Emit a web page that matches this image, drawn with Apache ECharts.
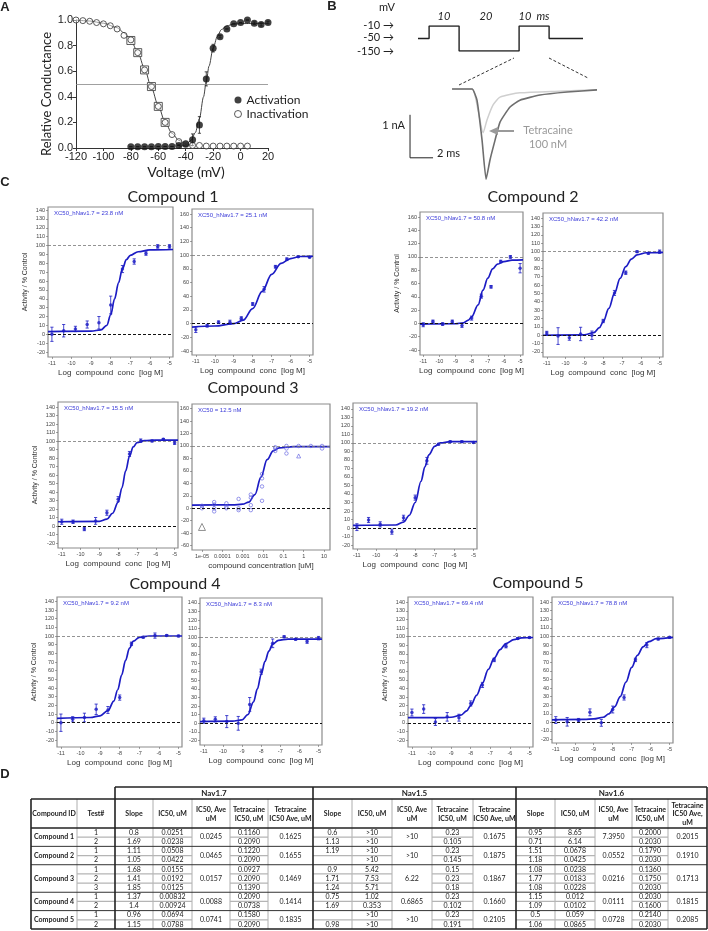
<!DOCTYPE html>
<html>
<head>
<meta charset="utf-8">
<script src="https://cdn.jsdelivr.net/npm/echarts@6/dist/echarts.min.js"></script>
<style>
html,body{margin:0;padding:0;background:#fff}
#main{width:708px;height:931px}
</style>
</head>
<body>
<div id="main"></div>
<script>
// ---------- panel A : activation / inactivation ----------
const inactV = [-120,-115,-110,-105,-100,-95,-90,-85,-80,-75,-70,-65,-60,-55,-50,-45,-40,-35,-30,-25,-20,-15,-10,-5,0,5];
const inactG = [1.0,0.995,0.99,0.98,0.97,0.955,0.93,0.88,0.845,0.745,0.61,0.48,0.325,0.2,0.105,0.05,0.035,0.02,0.02,0.015,0.015,0.015,0.015,0.015,0.015,0.015];
const sqV = [-80,-75,-70,-65,-60,-55];
const sqG = [0.84,0.745,0.61,0.48,0.325,0.2];
const actV = [-80,-75,-70,-65,-60,-55,-50,-45,-40,-35,-30,-25,-20,-15,-10,-5,0,5,10,15,20];
const actG = [0.01,0.01,0.01,0.01,0.012,0.012,0.012,0.02,0.03,0.065,0.18,0.54,0.78,0.87,0.93,0.97,0.98,1.0,0.975,0.965,0.98];
const actErr = [0,0,0,0,0,0,0,0,0.01,0.045,0.065,0.055,0.03,0.01,0,0,0,0,0.01,0.012,0.01];
const inactFit = [[-120,1.0],[-110,0.992],[-100,0.975],[-90,0.94],[-85,0.9],[-80,0.84],[-75,0.75],[-70,0.62],[-65,0.47],[-60,0.33],[-55,0.2],[-50,0.115],[-45,0.06],[-40,0.03],[-35,0.015]];
const actFit = [[-45,0.005],[-40,0.025],[-36,0.06],[-33,0.12],[-30,0.23],[-27,0.4],[-25,0.52],[-23,0.64],[-20,0.78],[-17,0.87],[-14,0.925],[-10,0.955],[-5,0.968],[0,0.972],[20,0.975]];

// ---------- panel B : protocol and current traces ----------
const protoT = [-3.7,0,0,10,10,30,30,40,40,51.3];
const protoV = ['-50','-50','-10','-10','-150','-150','-10','-10','-50','-50'];
const protoLevels = ['-150','-50','-10'];
const ctrlT = [0,1.74,2.17,2.61,2.96,3.3,3.74,4.17,5.04,5.9,7.65,10,12.6];
const ctrlI = [0,0,-0.26,-1.19,-2.1,-1.65,-1.19,-0.77,-0.42,-0.26,-0.14,-0.07,-0.02];
const tetT = [0,1.74,2.26,2.7,3.04,3.57,4.17,5.9,9.3,12.6];
const tetI = [0,0,-0.49,-1.02,-0.72,-0.37,-0.19,-0.09,-0.05,-0.02];
const scaleT = [-3.65,-3.65,-1.65];
const scaleI = [-0.6,-1.6,-1.6];

// ---------- panel C : dose response ----------
const logConc = [-11,-10.4,-9.8,-9.2,-8.6,-8,-7.4,-6.8,-6.2,-5.6,-5];
const logTicks = [-11,-10,-9,-8,-7,-6,-5];
const ticks10 = [-20,-10,0,10,20,30,40,50,60,70,80,90,100,110,120,130,140];
const ticks20 = [-40,-20,0,20,40,60,80,100,120,140,160];
const ticks20b = [-60,-40,-20,0,20,40,60,80,100,120,140,160];

const c1aAct = [0,4,6,11,13,33,73.5,82,91,99,99];
const c1aErr = [8,7,3,4,7,10,4,3,2,2,2];
const c1aFit = [[-11.2,3],[-9,3.5],[-8.5,5],[-8.2,10],[-8,22],[-7.8,40],[-7.6,58],[-7.4,74],[-7.2,84],[-7,89],[-6.6,93],[-6,95],[-4.82,95.5]];
const c1bAct = [-9,-3,2,2,8,28.6,50,83,94,97.7,97];
const c1bErr = [4,2,2,3,2,2,4,2,2,1,1];
const c1bFit = [[-11.2,-5],[-10,-3.5],[-9,0],[-8.5,5],[-8,22],[-7.5,47],[-7,72],[-6.5,88],[-6,95],[-5.5,98],[-4.82,98.5]];
const c2aAct = [-2,3,-1,3,-3,8,41,55,93,100,83];
const c2aErr = [3,2,2,2,3,3,3,2,2,2,7];
const c2aFit = [[-11.2,-1],[-9,-0.5],[-8.5,1],[-8.2,5],[-8,10],[-7.6,28],[-7.3,50],[-7,68],[-6.7,82],[-6.4,89],[-6,93],[-5.5,95],[-4.82,95.5]];
const c2bAct = [2.7,-1,-3,1.5,0,17,50.5,74.7,99.8,97.8,99.8];
const c2bErr = [2,10,3,8,5,2,3,2,1,1,2];
const c2bFit = [[-11.2,0],[-9,0.5],[-8.5,3],[-8.2,9],[-8,16],[-7.7,32],[-7.4,50],[-7.1,68],[-6.8,82],[-6.5,91],[-6.2,96],[-5.7,98.5],[-4.82,99]];
const c3aAct = [5,5,-3.5,6,15.6,31.6,84.7,100.4,100,102,98];
const c3aErr = [3,2,2,4,3,3,3,2,1,1,2];
const c3aFit = [[-11.2,5],[-9,5.5],[-8.6,8],[-8.3,15],[-8,28],[-7.8,45],[-7.6,65],[-7.4,82],[-7.2,93],[-7,98],[-6.6,100.5],[-6,101],[-4.82,101]];
const c3bX = [-5,-5,-4.4,-4.4,-4.4,-4.4,-3.8,-3.8,-3.8,-3.2,-3.2,-3.2,-2.6,-2.6,-2.6,-2.6,-2.05,-2.05,-2.05,-2.05,-1.4,-1.4,-1.4,-0.85,-0.85,-0.85,-0.25,0.35,0.9,0.9];
const c3bY = [4,0,10,6,0,-5,8,2,0,15,0,-3,22,17,5,-3,55,48,35,12,92,96,98,100,96,88,100,100,100,96];
const c3bTriX = [-0.25];
const c3bTriY = [84];
const c3bGrayX = [-5];
const c3bGrayY = [-30];
const c3bFit = [[-5.49,5],[-3.5,5.5],[-3,6.5],[-2.7,10],[-2.4,22],[-2.1,50],[-1.8,78],[-1.5,92],[-1.2,97],[-0.5,99],[1.29,99]];
const c3bTicks = [-5,-4,-3,-2,-1,0,1];
const c3bTickText = ['1e-05','0.0001','0.001','0.01','0.1','1','10'];
const c3cAct = [1,9.4,4.3,-4.3,12,35.7,79,98.5,101.5,101.5,100.6];
const c3cErr = [4,3,3,3,3,3,4,1,1,1,1];
const c3cFit = [[-11.2,3],[-9,3.5],[-8.6,7],[-8.3,15],[-8,30],[-7.7,55],[-7.5,72],[-7.3,86],[-7,96],[-6.7,100],[-6.2,101.5],[-4.82,101.5]];
const c4aAct = [0,4,6,15.5,14.7,29,91,98.6,100.5,100.5,100];
const c4aErr = [10,3,5,6,4,3,2,1,3,1,1];
const c4aFit = [[-11.2,5],[-9.5,6],[-9,8],[-8.6,14],[-8.3,25],[-8.1,38],[-7.9,55],[-7.7,72],[-7.5,86],[-7.3,94],[-7,98.5],[-6.5,100],[-4.82,100]];
const c4bAct = [3,4.6,2,0,22,60,93,100.7,97.7,95,99];
const c4bErr = [3,3,7,8,8,3,5,1,1,2,2];
const c4bFit = [[-11.2,2],[-9.5,2.5],[-9,4],[-8.7,10],[-8.4,25],[-8.2,40],[-8,57],[-7.8,72],[-7.6,84],[-7.4,92],[-7.1,96.5],[-6.6,98],[-4.82,98]];
const c5aAct = [12,16,1,7,6,22.5,44,73,89,98,99];
const c5aErr = [4,5,4,5,4,3,3,2,2,1,1];
const c5aFit = [[-11.2,6],[-9.5,6],[-9,6.5],[-8.5,9],[-8.2,14],[-8,20],[-7.7,32],[-7.4,46],[-7.1,62],[-6.8,75],[-6.5,85],[-6.2,92],[-5.8,96.5],[-5.4,98.5],[-4.82,99]];
const c5bAct = [2.7,0.7,2.6,11.7,-0.5,15,29,72.8,90,97,99];
const c5bErr = [4,5,2,4,4,4,3,2,3,1,1];
const c5bFit = [[-11.2,3],[-9.5,3.5],[-9,4],[-8.5,6],[-8.2,10],[-7.9,18],[-7.6,30],[-7.3,47],[-7,64],[-6.7,78],[-6.4,88],[-6.1,94],[-5.7,97.5],[-4.82,99]];

// ---------- panel D : table ----------
const cmpNames = ['Compound 1','Compound 2','Compound 3','Compound 4','Compound 5'];
const cmpRows = [2,2,3,2,2];
const testNo = ['1','2','1','2','1','2','3','1','2','1','2'];
const groupNames = ['Nav1.7','Nav1.5','Nav1.6'];
const headLabels = ['Slope','IC50, uM','IC50, Ave\nuM','Tetracaine\nIC50, uM','Tetracaine\nIC50 Ave, uM'];
const headLabels16 = ['Slope','IC50, uM','IC50, Ave\nuM','Tetracaine\nIC50, uM','Tetracaine\nIC50 Ave,\nuM'];
const nav17Slope = ['0.8','1.69','1.11','1.05','1.68','1.41','1.85','1.37','1.4','0.96','1.15'];
const nav17IC50 = ['0.0251','0.0238','0.0508','0.0422','0.0155','0.0192','0.0125','0.00832','0.00924','0.0694','0.0788'];
const nav17Ave = ['0.0245','0.0465','0.0157','0.0088','0.0741'];
const nav17Tet = ['0.1160','0.2090','0.1220','0.2090','0.0927','0.2090','0.1390','0.2090','0.0738','0.1580','0.2090'];
const nav17TetAve = ['0.1625','0.1655','0.1469','0.1414','0.1835'];
const nav15Slope = ['0.6','1.13','1.19','','0.9','1.71','1.24','0.75','1.69','','0.98'];
const nav15IC50 = ['>10','>10','>10','>10','5.42','7.53','5.71','1.02','0.353','>10','>10'];
const nav15Ave = ['>10','>10','6.22','0.6865','>10'];
const nav15Tet = ['0.23','0.105','0.23','0.145','0.15','0.23','0.18','0.23','0.102','0.23','0.191'];
const nav15TetAve = ['0.1675','0.1875','0.1867','0.1660','0.2105'];
const nav16Slope = ['0.95','0.71','1.51','1.18','1.08','1.77','1.08','1.15','1.09','0.5','1.06'];
const nav16IC50 = ['8.65','6.14','0.0678','0.0425','0.0238','0.0183','0.0228','0.012','0.0102','0.059','0.0865'];
const nav16Ave = ['7.3950','0.0552','0.0216','0.0111','0.0728'];
const nav16Tet = ['0.2000','0.2030','0.1790','0.2030','0.1360','0.1750','0.2030','0.2030','0.1600','0.2140','0.2030'];
const nav16TetAve = ['0.2015','0.1910','0.1713','0.1815','0.2085'];

const FONT = 'Lato, "Open Sans", sans-serif';
const ARIAL = '"Liberation Sans", Arial, sans-serif';
const BLUE = '#1c1cc4';

const chart = echarts.init(document.getElementById('main'));

const grids = [];
const xAxes = [];
const yAxes = [];
const series = [];
const gfx = [];

function txt(x, y, s, size, o) {
    o = o || {};
    gfx.push({
        type: 'text', x: x, y: y, rotation: o.rot || 0, silent: true, z: 10,
        style: {
            text: s, fontSize: size, fontFamily: o.font || FONT,
            fontWeight: o.bold ? 'bold' : 'normal', fontStyle: o.italic ? 'italic' : 'normal',
            fill: o.color || '#222', align: o.align || 'center', verticalAlign: o.va || 'middle',
            lineHeight: o.lh || size * 1.15
        }
    });
}
function seg(x1, y1, x2, y2, color, w, dash) {
    gfx.push({
        type: 'line', silent: true, z: 10,
        shape: {x1: x1, y1: y1, x2: x2, y2: y2},
        style: {stroke: color, lineWidth: w, lineDash: dash || null}
    });
}

function errBar(params, api) {
    const x = api.value(0);
    const lo = api.coord([x, api.value(1)]);
    const hi = api.coord([x, api.value(2)]);
    const w = 1.6;
    const st = {stroke: api.visual('color'), lineWidth: 0.8};
    return {type: 'group', children: [
        {type: 'line', shape: {x1: lo[0], y1: lo[1], x2: hi[0], y2: hi[1]}, style: st},
        {type: 'line', shape: {x1: lo[0] - w, y1: lo[1], x2: lo[0] + w, y2: lo[1]}, style: st},
        {type: 'line', shape: {x1: hi[0] - w, y1: hi[1], x2: hi[0] + w, y2: hi[1]}, style: st}
    ]};
}

/* ---------- A ---------- */
grids.push({left: 76, top: 20, width: 192, height: 128});
xAxes.push({gridIndex: 0, type: 'value', min: -120, max: 20, interval: 20,
    axisLine: {onZero: false, lineStyle: {color: '#333', width: 1}}, axisTick: {length: 3, lineStyle: {color: '#333'}},
    axisLabel: {fontSize: 11, color: '#222', margin: 3, fontFamily: ARIAL}, splitLine: {show: false}});
yAxes.push({gridIndex: 0, type: 'value', min: 0, max: 1, interval: 0.2,
    axisLine: {show: true, onZero: false, lineStyle: {color: '#333', width: 1}}, axisTick: {show: true, length: 3, lineStyle: {color: '#333'}},
    axisLabel: {fontSize: 11, color: '#222', margin: 3, fontFamily: ARIAL, formatter: v => v.toFixed(1)}, splitLine: {show: false}});
series.push({type: 'line', name: 'inactFit', xAxisIndex: 0, yAxisIndex: 0, data: inactFit, smooth: 0.3,
    smoothMonotone: 'x', showSymbol: false, lineStyle: {color: '#444', width: 1}, z: 1});
series.push({type: 'line', name: 'actFit', xAxisIndex: 0, yAxisIndex: 0, data: actFit, smooth: 0.3,
    smoothMonotone: 'x', showSymbol: false, lineStyle: {color: '#444', width: 1}, z: 1,
    markLine: {silent: true, symbol: ['none', 'none'], label: {show: false},
        data: [{yAxis: 0.5}], lineStyle: {color: '#888', width: 0.8, type: 'solid'}}});
series.push({type: 'scatter', name: 'squares', xAxisIndex: 0, yAxisIndex: 0,
    data: sqV.map((v, i) => [v, sqG[i]]), symbol: 'rect', symbolSize: 8,
    itemStyle: {color: '#fff', borderColor: '#333', borderWidth: 1}, z: 2});
series.push({type: 'scatter', name: 'Inactivation', xAxisIndex: 0, yAxisIndex: 0,
    data: inactV.map((v, i) => [v, inactG[i]]), symbol: 'circle', symbolSize: 6,
    itemStyle: {color: 'rgba(255,255,255,0.6)', borderColor: '#333', borderWidth: 1}, z: 3});
series.push({type: 'custom', name: 'actErr', xAxisIndex: 0, yAxisIndex: 0, renderItem: errBar,
    itemStyle: {color: '#222'}, encode: {x: 0, y: [1, 2]},
    data: actV.map((v, i) => [v, actG[i] - actErr[i], actG[i] + actErr[i]]), z: 3});
series.push({type: 'scatter', name: 'Activation', xAxisIndex: 0, yAxisIndex: 0,
    data: actV.map((v, i) => [v, actG[i]]), symbol: 'circle', symbolSize: 7,
    itemStyle: {color: '#111'}, z: 4});

/* ---------- B ---------- */
grids.push({left: 418, top: 26, width: 165, height: 25});
xAxes.push({gridIndex: 1, type: 'value', min: -3.7, max: 51.3, show: false, axisLine: {onZero: false}});
yAxes.push({gridIndex: 1, type: 'category', data: protoLevels, boundaryGap: false, show: false});
series.push({type: 'line', xAxisIndex: 1, yAxisIndex: 1, data: protoT.map((t, i) => [t, protoV[i]]),
    showSymbol: false, lineStyle: {color: '#222', width: 1.4}});
grids.push({left: 406, top: 80.4, width: 191, height: 116.1});
xAxes.push({gridIndex: 2, type: 'value', min: -4, max: 12.6, show: false, axisLine: {onZero: false}});
yAxes.push({gridIndex: 2, type: 'value', min: -2.5, max: 0.2, show: false, axisLine: {onZero: false}});
series.push({type: 'line', xAxisIndex: 2, yAxisIndex: 2, data: tetT.map((t, i) => [t, tetI[i]]),
    smooth: 0.2, showSymbol: false, lineStyle: {color: '#cfcfcf', width: 1.5}});
series.push({type: 'line', xAxisIndex: 2, yAxisIndex: 2, data: ctrlT.map((t, i) => [t, ctrlI[i]]),
    smooth: 0.15, showSymbol: false, lineStyle: {color: '#6e6e6e', width: 1.6}});
series.push({type: 'line', xAxisIndex: 2, yAxisIndex: 2, data: scaleT.map((t, i) => [t, scaleI[i]]),
    showSymbol: false, lineStyle: {color: '#222', width: 1}});

/* ---------- C ---------- */
const doseCharts = [
    {box: [48, 207, 173, 357], y: [-25.6, 143.4], yt: ticks10, act: c1aAct, err: c1aErr, fit: c1aFit, tag: 'XC50_hNav1.7 = 23.8 nM', yName: true},
    {box: [192, 209, 313, 355], y: [-45.8, 167.3], yt: ticks20, act: c1bAct, err: c1bErr, fit: c1bFit, tag: 'XC50_hNav1.7 = 25.1 nM'},
    {box: [420, 212, 523, 355], y: [-47.5, 167.5], yt: ticks20, act: c2aAct, err: c2aErr, fit: c2aFit, tag: 'XC50_hNav1.7 = 50.8 nM', yName: true},
    {box: [543, 213, 663, 357], y: [-26, 146], yt: ticks10, act: c2bAct, err: c2bErr, fit: c2bFit, tag: 'XC50_hNav1.7 = 42.2 nM'},
    {box: [58, 402, 178, 548], y: [-25.9, 145.9], yt: ticks10, act: c3aAct, err: c3aErr, fit: c3aFit, tag: 'XC50_hNav1.7 = 15.5 nM', yName: true},
    {box: [192, 404, 330, 550], y: [-67, 167.4], yt: ticks20b, fit: c3bFit, tag: 'XC50 = 12.5 nM', uM: true},
    {box: [353, 403, 477, 549], y: [-24.7, 147], yt: ticks10, act: c3cAct, err: c3cErr, fit: c3cFit, tag: 'XC50_hNav1.7 = 19.2 nM'},
    {box: [57, 597, 182, 747], y: [-28, 145], yt: ticks10, act: c4aAct, err: c4aErr, fit: c4aFit, tag: 'XC50_hNav1.7 = 9.2 nM', yName: true},
    {box: [200, 598, 322, 745], y: [-25.2, 145.7], yt: ticks10, act: c4bAct, err: c4bErr, fit: c4bFit, tag: 'XC50_hNav1.7 = 8.3 nM'},
    {box: [408, 597, 533, 747], y: [-28, 146], yt: ticks10, act: c5aAct, err: c5aErr, fit: c5aFit, tag: 'XC50_hNav1.7 = 69.4 nM', yName: true},
    {box: [552, 597, 673, 743], y: [-24, 146], yt: ticks10, act: c5bAct, err: c5bErr, fit: c5bFit, tag: 'XC50_hNav1.7 = 78.8 nM'}
];

doseCharts.forEach(function (c, k) {
    const gi = k + 3;
    const b = c.box;
    grids.push({left: b[0], top: b[1], width: b[2] - b[0], height: b[3] - b[1], show: true,
        borderColor: '#8c8c8c', borderWidth: 1.2, backgroundColor: 'transparent'});
    const xt = c.uM ? c3bTicks : logTicks;
    xAxes.push({gridIndex: gi, type: 'value', min: c.uM ? -5.49 : -11.2, max: c.uM ? 1.29 : -4.82,
        axisLine: {show: false, onZero: false}, splitLine: {show: false},
        axisTick: {show: true, customValues: xt, length: 2, lineStyle: {color: '#666', width: 0.6}},
        axisLabel: {customValues: xt, fontSize: 5.5, color: '#444', margin: 3, fontFamily: ARIAL,
            formatter: c.uM ? (v => c3bTickText[Math.round(v) + 5]) : (v => String(v))},
        name: c.uM ? 'compound concentration [uM]' : 'Log  compound  conc  [log M]',
        nameLocation: 'middle', nameGap: 12, nameTextStyle: {fontSize: 8, color: '#333', fontFamily: ARIAL}});
    yAxes.push({gridIndex: gi, type: 'value', min: c.y[0], max: c.y[1],
        axisLine: {show: false, onZero: false}, splitLine: {show: false},
        axisTick: {show: true, customValues: c.yt, length: 2, lineStyle: {color: '#666', width: 0.6}},
        axisLabel: {customValues: c.yt, fontSize: 5.5, color: '#444', margin: 3, fontFamily: ARIAL},
        name: c.yName ? 'Activity / % Control' : '', nameLocation: 'middle', nameGap: 19,
        nameTextStyle: {fontSize: 7, color: '#333', fontFamily: ARIAL}});
    series.push({type: 'line', xAxisIndex: gi, yAxisIndex: gi, data: c.fit, smooth: 0.35, smoothMonotone: 'x',
        showSymbol: false, lineStyle: {color: BLUE, width: 1.7}, z: 3,
        markLine: {silent: true, symbol: ['none', 'none'], label: {show: false},
            data: [
                {yAxis: 100, lineStyle: {color: '#777', width: 0.8, type: [3, 2]}},
                {yAxis: 0, lineStyle: {color: '#111', width: 1, type: [3, 2]}}
            ]}});
    if (c.uM) {
        series.push({type: 'scatter', xAxisIndex: gi, yAxisIndex: gi, data: c3bX.map((v, i) => [v, c3bY[i]]),
            symbol: 'circle', symbolSize: 3.5, itemStyle: {color: 'transparent', borderColor: '#5b5be0', borderWidth: 0.8}, z: 4});
        series.push({type: 'scatter', xAxisIndex: gi, yAxisIndex: gi, data: c3bTriX.map((v, i) => [v, c3bTriY[i]]),
            symbol: 'triangle', symbolSize: 4, itemStyle: {color: 'transparent', borderColor: '#5b5be0', borderWidth: 0.8}, z: 4});
        series.push({type: 'scatter', xAxisIndex: gi, yAxisIndex: gi, data: c3bGrayX.map((v, i) => [v, c3bGrayY[i]]),
            symbol: 'triangle', symbolSize: 7, itemStyle: {color: 'transparent', borderColor: '#777', borderWidth: 1}, z: 4});
    } else {
        series.push({type: 'custom', xAxisIndex: gi, yAxisIndex: gi, renderItem: errBar, itemStyle: {color: BLUE},
            encode: {x: 0, y: [1, 2]}, data: logConc.map((v, i) => [v, c.act[i] - c.err[i], c.act[i] + c.err[i]]), z: 4});
        series.push({type: 'scatter', xAxisIndex: gi, yAxisIndex: gi, data: logConc.map((v, i) => [v, c.act[i]]),
            symbol: 'circle', symbolSize: 3.5, itemStyle: {color: BLUE}, z: 5});
    }
    txt(b[0] + 6, b[1] + 6, c.tag, 6, {align: 'left', color: '#3a3ad8', font: ARIAL});
});

/* ---------- texts for A, B, C ---------- */
txt(5, 7, 'A', 13, {bold: true, font: ARIAL});
txt(332, 6, 'B', 13, {bold: true, font: ARIAL});
txt(5, 182, 'C', 13, {bold: true, font: ARIAL});
txt(5, 774, 'D', 13, {bold: true, font: ARIAL});
txt(47, 94, 'Relative Conductance', 13, {rot: Math.PI / 2});
txt(186, 172, 'Voltage (mV)', 14);

txt(387, 7, 'mV', 11);
txt(394, 25, '-10 \u2192', 11, {align: 'right'});
txt(394, 37, '-50 \u2192', 11, {align: 'right'});
txt(394, 51, '-150 \u2192', 11, {align: 'right'});
txt(444, 16, '10', 11, {italic: true});
txt(486, 16, '20', 11, {italic: true});
txt(534, 16, '10  ms', 11, {italic: true});
seg(459, 85, 514, 58, '#333', 1, [3, 2]);
seg(549, 58, 588, 78, '#333', 1, [3, 2]);
txt(405, 125, '1 nA', 11, {align: 'right'});
txt(437, 153, '2 ms', 11, {align: 'left'});
seg(496, 131, 514, 131, '#9a9a9a', 2);
gfx.push({type: 'polygon', silent: true, z: 10, shape: {points: [[489, 131], [498, 127], [498, 135]]}, style: {fill: '#9a9a9a'}});
txt(548, 130, 'Tetracaine', 11, {color: '#999'});
txt(548, 144, '100 nM', 11, {color: '#999'});

txt(173, 197, 'Compound 1', 16);
txt(533, 197, 'Compound 2', 16);
txt(253, 388, 'Compound 3', 16);
txt(175, 584, 'Compound 4', 16);
txt(538, 583, 'Compound 5', 16);

/* ---------- D table ---------- */
const colX = [31, 77, 115, 153, 192, 230, 268, 313, 352, 392, 432, 473, 516, 555, 595, 632, 668, 707];
const tTop = 787, hTop = 799, dTop = 828, rowH = 9.18;
const tBot = dTop + rowH * 11;
const groups = [
    [nav17Slope, nav17IC50, nav17Ave, nav17Tet, nav17TetAve],
    [nav15Slope, nav15IC50, nav15Ave, nav15Tet, nav15TetAve],
    [nav16Slope, nav16IC50, nav16Ave, nav16Tet, nav16TetAve]
];
const cx = c => (colX[c] + colX[c + 1]) / 2;

// thin inner verticals
colX.forEach(function (x, i) {
    if (i > 0 && i < colX.length - 1 && [2, 7, 12].indexOf(i) < 0) seg(x, hTop, x, tBot, '#9a9a9a', 0.8);
});
// test separators
let r0 = 0;
cmpRows.forEach(function (n) {
    for (let j = 1; j < n; j++) {
        const y = dTop + (r0 + j) * rowH;
        seg(colX[1], y, colX[2], y, '#b5b5b5', 1.2);
        for (let g = 0; g < 3; g++) {
            const c0 = 2 + g * 5;
            seg(colX[c0], y, colX[c0 + 2], y, '#b5b5b5', 1.2);
            seg(colX[c0 + 3], y, colX[c0 + 4], y, '#b5b5b5', 1.2);
        }
    }
    r0 += n;
    if (r0 < 11) seg(colX[0], dTop + r0 * rowH, colX[17], dTop + r0 * rowH, '#333', 1);
});
// thick frame
seg(115, tTop, 707, tTop, '#222', 1.6);
seg(31, hTop, 707, hTop, '#222', 1.6);
seg(31, dTop, 707, dTop, '#222', 1.6);
seg(31, tBot, 707, tBot, '#222', 1.6);
seg(31, hTop, 31, tBot, '#222', 1.6);
[115, 313, 516, 707].forEach(x => seg(x, tTop, x, tBot, '#222', 1.6));

txt(cx(0), (hTop + dTop) / 2, 'Compound ID', 7, {bold: true});
txt(cx(1), (hTop + dTop) / 2, 'Test#', 7, {bold: true});
groups.forEach(function (g, gi) {
    const c0 = 2 + gi * 5;
    txt((colX[c0] + colX[c0 + 5]) / 2, (tTop + hTop) / 2, groupNames[gi], 8, {bold: true});
    (gi === 2 ? headLabels16 : headLabels).forEach((h, k) => txt(cx(c0 + k), (hTop + dTop) / 2 + 0.5, h, 7, {bold: true, lh: 8.5}));
    let r = 0;
    cmpRows.forEach(function (n, ci) {
        for (let j = 0; j < n; j++) {
            const yc = dTop + (r + j + 0.5) * rowH;
            txt(cx(c0), yc, g[0][r + j], 7);
            txt(cx(c0 + 1), yc, g[1][r + j], 7);
            txt(cx(c0 + 3), yc, g[3][r + j], 7);
        }
        const ym = dTop + (r + n / 2) * rowH;
        txt(cx(c0 + 2), ym, g[2][ci], 7);
        txt(cx(c0 + 4), ym, g[4][ci], 7);
        r += n;
    });
});
let rr = 0;
cmpRows.forEach(function (n, ci) {
    txt(cx(0), dTop + (rr + n / 2) * rowH, cmpNames[ci], 7, {bold: true});
    for (let j = 0; j < n; j++) txt(cx(1), dTop + (rr + j + 0.5) * rowH, testNo[rr + j], 7);
    rr += n;
});

chart.setOption({
    animation: false,
    backgroundColor: '#fff',
    legend: {
        data: [
            {name: 'Activation', icon: 'circle', itemStyle: {color: '#111'}},
            {name: 'Inactivation', icon: 'circle', itemStyle: {color: '#fff', borderColor: '#333', borderWidth: 1}}
        ],
        orient: 'vertical', left: 229, top: 89, itemWidth: 7, itemHeight: 7, itemGap: 2,
        selectedMode: false, textStyle: {fontSize: 12, color: '#222', fontFamily: FONT}
    },
    grid: grids,
    xAxis: xAxes,
    yAxis: yAxes,
    series: series,
    graphic: gfx
});
</script>
</body>
</html>
